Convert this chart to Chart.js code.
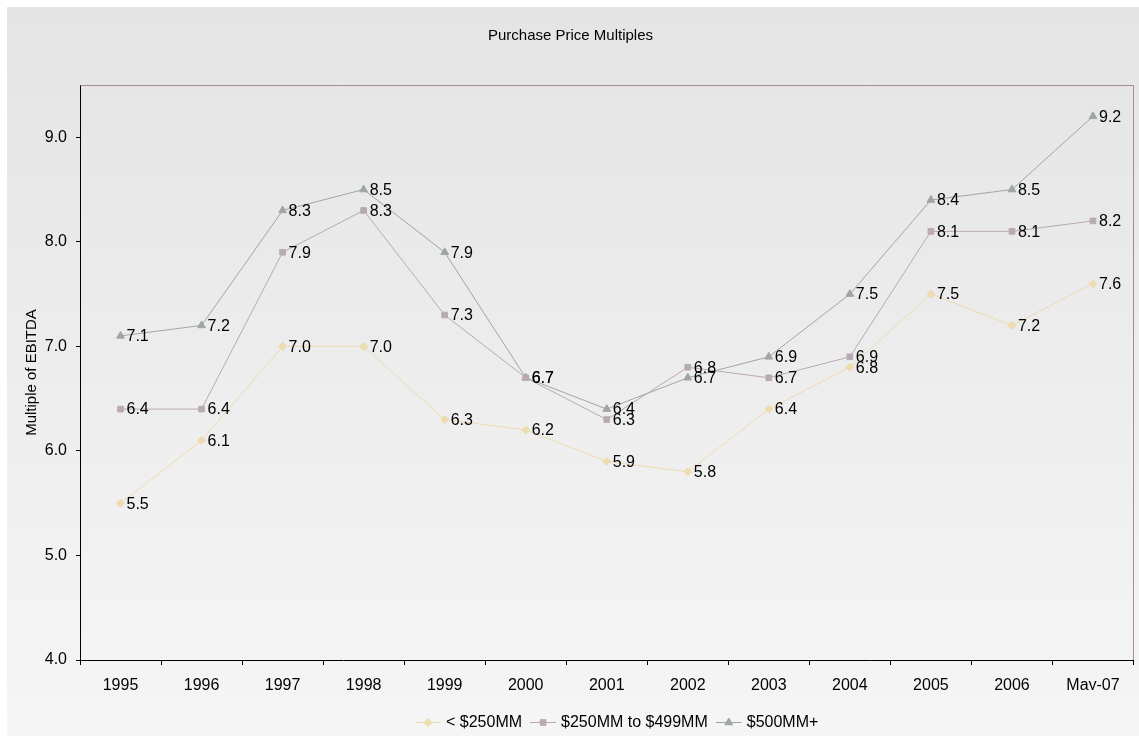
<!DOCTYPE html>
<html>
<head>
<meta charset="utf-8">
<title>Purchase Price Multiples</title>
<script src="https://cdn.jsdelivr.net/npm/chart.js@4.4.1/dist/chart.umd.min.js"></script>
<style>
  html, body { margin: 0; padding: 0; background: #ffffff; }
  #wrap { width: 1139px; height: 736px; }
</style>
</head>
<body>
<div id="wrap"><canvas id="myChart" width="1139" height="736"></canvas></div>
<script>
var years = ["1995", "1996", "1997", "1998", "1999", "2000", "2001", "2002", "2003", "2004", "2005", "2006", "May-07"];
var under250 = [5.5, 6.1, 7.0, 7.0, 6.3, 6.2, 5.9, 5.8, 6.4, 6.8, 7.5, 7.2, 7.6];
var mid250to499 = [6.4, 6.4, 7.9, 8.3, 7.3, 6.7, 6.3, 6.8, 6.7, 6.9, 8.1, 8.1, 8.2];
var over500 = [7.1, 7.2, 8.3, 8.5, 7.9, 6.7, 6.4, 6.7, 6.9, 7.5, 8.4, 8.5, 9.2];
var seriesNames = ["< $250MM", "$250MM to $499MM", "$500MM+"];

var FONT = "Arial, 'Liberation Sans', sans-serif";

// grey panel behind everything, lighter towards the bottom
var backdrop = {
  id: "backdrop",
  beforeDraw: function (chart) {
    var c = chart.ctx;
    var g = c.createLinearGradient(0, 7, 0, 736);
    g.addColorStop(0, "#e4e4e4");
    g.addColorStop(0.85, "#f3f3f3");
    g.addColorStop(1, "#f5f5f5");
    c.save();
    c.fillStyle = g;
    c.fillRect(7, 7, 1132, 729);
    c.restore();
  },
  beforeDatasetsDraw: function (chart) {
    // top and right edge of the plot frame
    var a = chart.chartArea;
    var c = chart.ctx;
    c.save();
    c.strokeStyle = "#a88c8a";
    c.lineWidth = 1;
    c.beginPath();
    c.moveTo(Math.round(a.left) + 0.5, Math.round(a.top) + 0.5);
    c.lineTo(Math.round(a.right) - 0.5, Math.round(a.top) + 0.5);
    c.lineTo(Math.round(a.right) - 0.5, Math.round(a.bottom));
    c.stroke();
    c.restore();
  }
};

// value printed to the right of every point
var valueLabels = {
  id: "valueLabels",
  afterDatasetsDraw: function (chart) {
    var c = chart.ctx;
    c.save();
    c.font = "16px " + FONT;
    c.fillStyle = "#000000";
    c.textAlign = "left";
    c.textBaseline = "middle";
    chart.data.datasets.forEach(function (ds, i) {
      var meta = chart.getDatasetMeta(i);
      meta.data.forEach(function (pt, j) {
        c.fillText(ds.data[j].toFixed(1), pt.x + 6, pt.y + 1);
      });
    });
    c.restore();
  }
};

// legend with a short line through each marker
var lineLegend = {
  id: "lineLegend",
  afterDraw: function (chart) {
    var c = chart.ctx;
    c.save();
    c.font = "16px " + FONT;
    c.textBaseline = "middle";
    var y = 722;
    var seg = 26, gap = 5, space = 8;
    var x = 415;
    chart.data.datasets.forEach(function (ds) {
      c.strokeStyle = ds.borderColor;
      c.fillStyle = ds.backgroundColor;
      c.lineWidth = 1;
      c.beginPath();
      c.moveTo(x, y + 0.5);
      c.lineTo(x + seg, y + 0.5);
      c.stroke();
      Chart.helpers.drawPoint(c, {
        pointStyle: ds.pointStyle,
        radius: ds.pointRadius,
        rotation: 0,
        borderWidth: 1
      }, x + seg / 2, y + 0.5);
      c.fillStyle = "#000000";
      c.fillText(ds.label, x + seg + gap, y + 1);
      x += seg + gap + c.measureText(ds.label).width + space;
    });
    c.restore();
  }
};

function styled(label, data, color, shape, r) {
  return {
    label: label,
    data: data,
    borderColor: color,
    backgroundColor: color,
    borderWidth: 1,
    pointStyle: shape,
    pointRadius: r,
    pointBorderWidth: 1,
    pointHoverRadius: r,
    tension: 0
  };
}

var ctx = document.getElementById("myChart").getContext("2d");
var chart = new Chart(ctx, {
  type: "line",
  data: {
    labels: years,
    datasets: [
      styled(seriesNames[0], under250, "#eedbb0", "rectRot", 4),
      styled(seriesNames[1], mid250to499, "#b9a9b3", "rect", 4),
      styled(seriesNames[2], over500, "#a0a6a6", "triangle", 4.5)
    ]
  },
  options: {
    responsive: false,
    animation: false,
    devicePixelRatio: 1,
    layout: { padding: { left: 7, top: 7, right: 5, bottom: 46 } },
    plugins: {
      legend: { display: false },
      tooltip: { enabled: false },
      title: {
        display: true,
        text: "Purchase Price Multiples",
        color: "#000000",
        font: { family: FONT, size: 15, weight: "normal" },
        padding: { top: 20, bottom: 40 }
      }
    },
    scales: {
      x: {
        type: "category",
        offset: true,
        grid: { display: true, offset: true, drawOnChartArea: false, drawTicks: true, tickLength: 5, color: "#000000" },
        border: { display: true, color: "#000000", width: 1 },
        ticks: { color: "#000000", padding: 11, maxRotation: 0, autoSkip: false, font: { family: FONT, size: 16 } },
        afterFit: function (scale) { scale.height = 30; }
      },
      y: {
        min: 4,
        max: 9.5,
        grid: { display: true, drawOnChartArea: false, drawTicks: true, tickLength: 4, color: "#000000" },
        border: { display: true, color: "#000000", width: 1 },
        ticks: {
          stepSize: 1,
          color: "#000000",
          padding: 9,
          font: { family: FONT, size: 16 },
          callback: function (v) { return Number(v).toFixed(1); }
        },
        afterBuildTicks: function (scale) {
          scale.ticks = scale.ticks.filter(function (t) { return Number.isInteger(t.value); });
        },
        title: {
          display: true,
          text: "Multiple of EBITDA",
          color: "#000000",
          font: { family: FONT, size: 15 },
          padding: { top: 16, bottom: 0 }
        },
        afterFit: function (scale) { scale.width = 73; }
      }
    }
  },
  plugins: [backdrop, valueLabels, lineLegend]
});
</script>
</body>
</html>
